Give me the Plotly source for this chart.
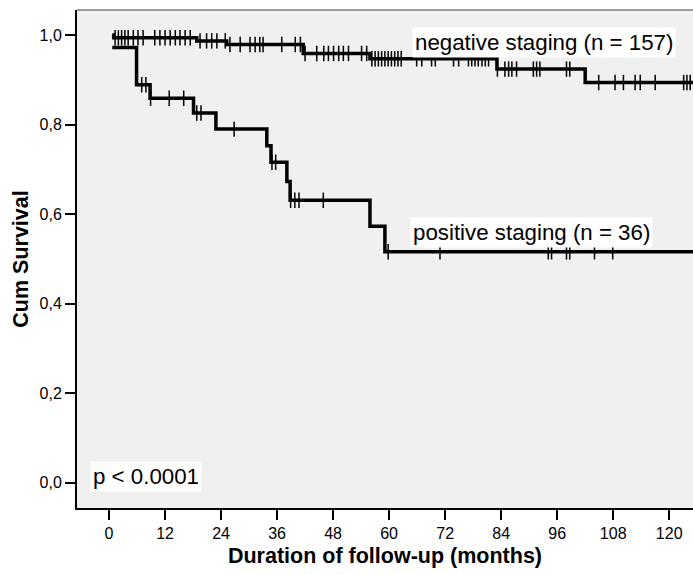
import numpy as np
import plotly.graph_objects as go

# ---------------- data ----------------
x_ticks = [0, 12, 24, 36, 48, 60, 72, 84, 96, 108, 120]
y_ticks = [0.0, 0.2, 0.4, 0.6, 0.8, 1.0]
y_tick_labels = ["0,0", "0,2", "0,4", "0,6", "0,8", "1,0"]

# negative staging (n = 157): step start times and survival level from that time
neg_times = [0.7, 1.0, 18.8, 25.2, 41.6, 55.9, 83.1, 102.0]
neg_surv = [1.0, 0.994, 0.987, 0.979, 0.959, 0.947, 0.924, 0.894]
neg_censored = [1.3, 2.0, 2.7, 3.4, 4.1, 5.2, 6.2, 7.3, 9.8, 10.9, 12.0, 13.1, 14.2, 15.2,
                16.3, 17.4,
                19.5, 20.9, 22.0, 23.1, 24.9,
                25.9, 28.1, 30.2, 31.3, 32.3, 33.0, 37.0, 39.9, 41.0,
                42.0, 44.5, 46.0, 47.0, 48.1, 49.2, 50.2, 51.3, 54.1, 55.2,
                56.3, 57.0, 57.7, 58.4, 59.1, 59.8, 60.5, 61.2, 61.9, 62.6, 65.9, 67.0,
                69.1, 69.9, 73.8, 74.9, 77.0, 77.7, 78.4, 79.1, 79.9, 80.6, 81.3,
                83.2, 84.8, 85.6, 86.3, 87.3, 90.9, 91.6, 92.3, 98.0, 98.7,
                104.9, 108.4, 110.2, 112.7, 113.8, 117.0, 123.1, 123.8, 124.5]

# positive staging (n = 36)
pos_times = [0.7, 5.9, 8.8, 18.1, 22.9, 33.8, 34.7, 38.1, 38.8, 55.9, 59.1]
pos_surv = [0.972, 0.889, 0.859, 0.826, 0.790, 0.753, 0.716, 0.673, 0.631, 0.573, 0.516]
pos_censored = [7.0, 7.9, 8.9, 12.9, 16.0, 18.8, 19.7, 26.8, 34.9, 35.7, 38.9, 39.8,
                40.7, 45.9, 59.8, 70.9, 94.1, 94.8, 98.0, 98.7, 104.0, 107.9]

end_time = 130
group_labels = ["negative staging (n = 157)", "positive staging (n = 36)"]
p_text = "p < 0.0001"

FONT = "Liberation Sans, Arial, sans-serif"


def step_value(times, surv, t):
    idx = np.searchsorted(np.array(times), np.array(t), side="right") - 1
    idx = np.clip(idx, 0, len(surv) - 1)
    return np.array(surv)[idx]


fig = go.Figure()
for times, surv, cens in [(neg_times, neg_surv, neg_censored),
                          (pos_times, pos_surv, pos_censored)]:
    xs = list(times) + [end_time]
    ys = list(surv) + [surv[-1]]
    fig.add_trace(go.Scatter(x=xs, y=ys, mode="lines",
                             line=dict(shape="hv", color="black", width=3.5),
                             showlegend=False, hoverinfo="skip"))
    fig.add_trace(go.Scatter(x=cens, y=step_value(times, surv, cens), mode="markers",
                             marker=dict(symbol="line-ns", size=11,
                                         line=dict(color="black", width=1.5)),
                             showlegend=False, hoverinfo="skip"))

ann_font = dict(family=FONT, size=22.3, color="black")
fig.add_annotation(x=64.8, y=0.984, text=group_labels[0], showarrow=False, xanchor="left",
                   yanchor="middle", font=ann_font, bgcolor="white", borderpad=2)
fig.add_annotation(x=64.4, y=0.560, text=group_labels[1], showarrow=False, xanchor="left",
                   yanchor="middle", font=ann_font, bgcolor="white", borderpad=2)
fig.add_annotation(x=-4.0, y=0.0145, text=p_text, showarrow=False, xanchor="left",
                   yanchor="middle", font=ann_font, bgcolor="white", borderpad=2)

# thin top border of the plot frame
fig.add_shape(type="line", xref="paper", yref="paper", x0=0, x1=1, y0=1, y1=1,
              line=dict(color="#404040", width=1))

fig.update_layout(
    width=693, height=574,
    margin=dict(l=77, r=0, t=10, b=66),
    paper_bgcolor="white", plot_bgcolor="#F0F0F0",
    font=dict(family=FONT, color="black"),
    xaxis=dict(range=[-6.86, 125.1], tickmode="array", tickvals=x_ticks,
               ticks="outside", ticklen=10, tickwidth=2, tickcolor="black",
               showline=True, linecolor="black", linewidth=2, showgrid=False, zeroline=False,
               tickfont=dict(size=16, family=FONT), automargin=False,
               title=dict(text="<b>Duration of follow-up (months)</b>",
                          font=dict(size=21.5, family=FONT), standoff=7)),
    yaxis=dict(range=[-0.0563, 1.056], tickmode="array", tickvals=y_ticks,
               ticktext=y_tick_labels, automargin=False,
               ticks="outside", ticklen=10, tickwidth=2, tickcolor="black",
               showline=True, linecolor="black", linewidth=2, showgrid=False, zeroline=False,
               tickfont=dict(size=16, family=FONT),
               title=dict(text="<b>Cum Survival</b>", font=dict(size=21.5, family=FONT),
                          standoff=5)),
)

fig.write_html("out.html", config={"displayModeBar": False},
               post_script="document.body.style.margin='0';document.body.style.overflow='hidden';")
